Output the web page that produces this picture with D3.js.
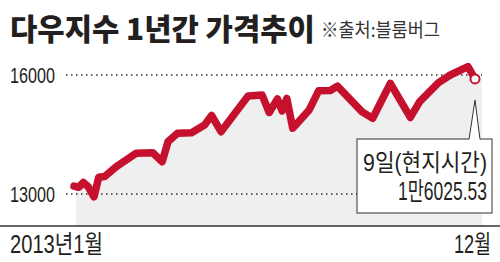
<!DOCTYPE html>
<html><head><meta charset="utf-8">
<script src="https://cdn.jsdelivr.net/npm/d3@7"></script>
<style>
html,body{margin:0;padding:0;background:#fff;}
svg{display:block;}
text{font-family:"Noto Sans CJK KR","Noto Sans",sans-serif;fill:#231f20;}
text.num{font-family:"Liberation Sans Narrow","Liberation Sans","Noto Sans CJK KR",sans-serif;}
</style></head>
<body>
<svg id="c" width="500" height="262"></svg>
<script>
const dates = ["2013-01-02","2013-01-06","2013-01-10","2013-01-14","2013-01-19","2013-01-23","2013-01-28","2013-02-07","2013-02-24","2013-03-10","2013-03-18","2013-03-23","2013-03-31","2013-04-12","2013-04-23","2013-04-29","2013-05-07","2013-05-30","2013-06-11","2013-06-17","2013-06-24","2013-06-28","2013-07-02","2013-07-07","2013-07-21","2013-07-29","2013-08-08","2013-08-14","2013-09-04","2013-09-13","2013-09-28","2013-10-15","2013-10-23","2013-11-08","2013-11-18","2013-12-03","2013-12-09"];
const values = [13200,13170,13290,13185,12930,13420,13440,13690,14030,14040,13815,14320,14530,14545,14740,14980,14570,15470,15495,15055,15395,15095,15410,14660,15120,15600,15610,15720,15070,14910,15790,14930,15330,15810,16000,16210,15900];
const yTicks = [13000,16000];
const yTickLabels = ["13000","16000"];
const xLabels = ["2013년1월","12월"];
const title = "다우지수 1년간 가격추이";
const source = "※출처:블룸버그";
const calloutLines = ["9일(현지시간)","1만6025.53"];

const parse = d3.timeParse("%Y-%m-%d");
const data = dates.map((d,i)=>({date:parse(d), value:values[i]}));

const svg = d3.select("#c");
const x = d3.scaleTime().domain([data[0].date, data[data.length-1].date]).range([74,475]);
const y = d3.scaleLinear().domain([13000,16000]).range([194,75]);
const plotLeft = 76, plotRight = 482, baseY = 226;

// text helper: draws text with horizontal compression to fit a target width
function fitText(str, x0, yb, size, width, opts={}) {
  const anchor = opts.anchor || "start";
  const g = svg.append("g");
  const t = g.append("text").attr("class",opts.cls||null).attr("x",0).attr("y",0).attr("font-size",size)
    .attr("font-weight",opts.weight||400).attr("text-anchor",anchor).text(str);
  if (opts.fill) t.style("fill",opts.fill);
  const w = t.node().getComputedTextLength();
  const s = width / w;
  g.attr("transform",`translate(${x0},${yb}) scale(${s},1)`);
  return g;
}

// title
fitText(title, 10, 40, 30, 305, {weight:900});
fitText(source, 321, 37, 19, 119, {fill:"#333"});

// area fill
const areaData = data.concat([{date:x.invert(plotRight), value:data[data.length-1].value}]);
const area = d3.area().x(d=>Math.max(plotLeft,x(d.date))).y0(baseY).y1(d=>y(d.value));
svg.append("path").datum(areaData).attr("d",area).attr("fill","#efefef");

// gridlines
svg.selectAll(".grid").data(yTicks).join("line")
  .attr("x1",66).attr("x2",plotRight).attr("y1",d=>y(d)).attr("y2",d=>y(d))
  .attr("stroke","#333").attr("stroke-width",1.5).attr("stroke-dasharray","1.5,3.5");

// y labels
yTicks.forEach((d,i)=>fitText(yTickLabels[i], 10, y(d)+8, 22, 45, {cls:"num"}));

// axis line
svg.append("line").attr("x1",0).attr("x2",500).attr("y1",baseY).attr("y2",baseY)
  .attr("stroke","#333").attr("stroke-width",1.5);

// x labels
fitText(xLabels[0], 10, 253, 25, 93, {cls:"num"});
fitText(xLabels[1], 454, 253, 25, 37, {cls:"num"});

// line
const line = d3.line().x(d=>x(d.date)).y(d=>y(d.value));
svg.append("path").datum(data).attr("d",line).attr("fill","none")
  .attr("stroke","#c5102e").attr("stroke-width",7.5)
  .attr("stroke-linejoin","round").attr("stroke-linecap","round");

// end marker
const last = data[data.length-1];
const lx = x(last.date), ly = y(last.value);
svg.append("circle").attr("cx",lx).attr("cy",ly).attr("r",4.5)
  .attr("fill","#fff").attr("stroke","#c5102e").attr("stroke-width",2);

// callout
const bx0 = 357, bx1 = 492, by0 = 139, by1 = 213;
svg.append("rect").attr("x",bx0).attr("y",by0).attr("width",bx1-bx0).attr("height",by1-by0)
  .attr("fill","#fff").attr("stroke","#333").attr("stroke-width",1);
svg.append("path").attr("d",`M${lx-6},${by0+0.5} L${lx},${ly+21} L${lx+5},${by0+0.5}`)
  .attr("fill","#fff").attr("stroke","#333").attr("stroke-width",1);
svg.append("rect").attr("x",lx-5.5).attr("y",by0-0.6).attr("width",10).attr("height",1.8).attr("fill","#fff");
fitText(calloutLines[0], 487, 171, 24, 124, {anchor:"end", cls:"num"});
fitText(calloutLines[1], 487, 200, 25, 89, {anchor:"end", cls:"num"});
</script>
</body></html>
